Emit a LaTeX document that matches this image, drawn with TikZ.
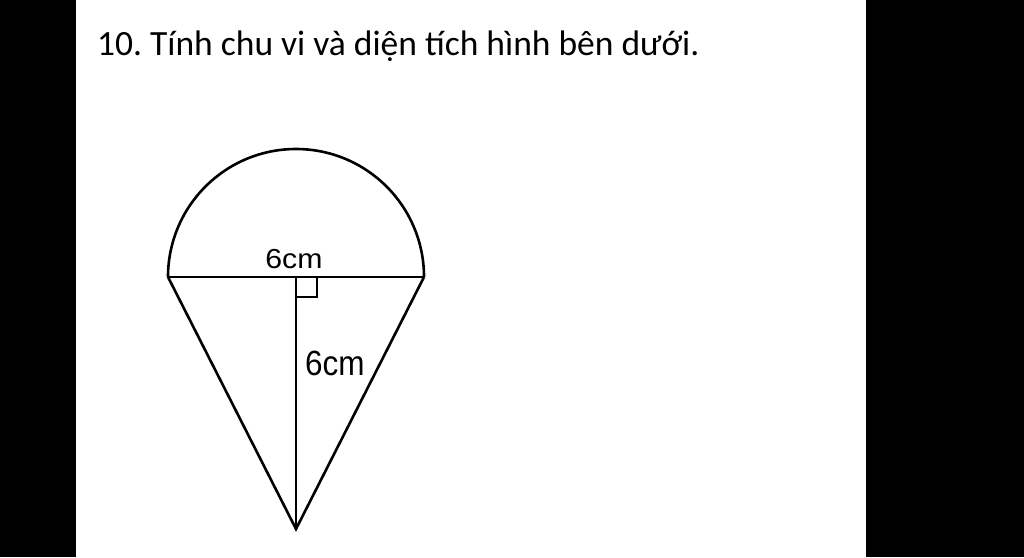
\documentclass[tikz,border=0pt]{standalone}
\usepackage{fontspec}
\setmainfont{Carlito}
\newfontfamily\labelfont{Liberation Sans}
\usepackage{tikz}
\usetikzlibrary{calc}
\frenchspacing

\tikzset{
  fig/.style={line width=2.6pt, black, line join=miter},
  cmlabel/.style={font=\labelfont, inner sep=0pt}
}

\begin{document}
\begin{tikzpicture}[x=1pt,y=-1pt]
\useasboundingbox (0,0) rectangle (1024,557);
\fill[black] (0,0) rectangle (1024,557);
\fill[white] (76,0) rectangle (866,557);
\node[anchor=base west, inner sep=0pt, font=\fontsize{35.5}{36}\selectfont] (title) at (97,55) {10. Tính chu vi và diện tích hình bên dưới.};
\coordinate (L) at (168,277);
\coordinate (R) at (424,277);
\coordinate (O) at (296,277);
\coordinate (T) at (296,529);
\draw[fig] (L) arc[start angle=180, end angle=360, radius=128];
\draw[fig] (L) -- (R);
\draw[fig] (L) -- (T) -- (R);
\draw[fig] (O) -- (T);
\draw[line width=2pt] (O) ++(0,20) -- ++(21,0) -- ++(0,-20);
\node[cmlabel, anchor=base] (dlabel) at (294,268) {\fontsize{27.5}{28}\selectfont\scalebox{1.1}[1]{6cm}};
\node[cmlabel, anchor=base west] (hlabel) at (305,375) {\fontsize{35}{35}\selectfont\scalebox{0.9}[1]{6cm}};
\end{tikzpicture}
\end{document}
